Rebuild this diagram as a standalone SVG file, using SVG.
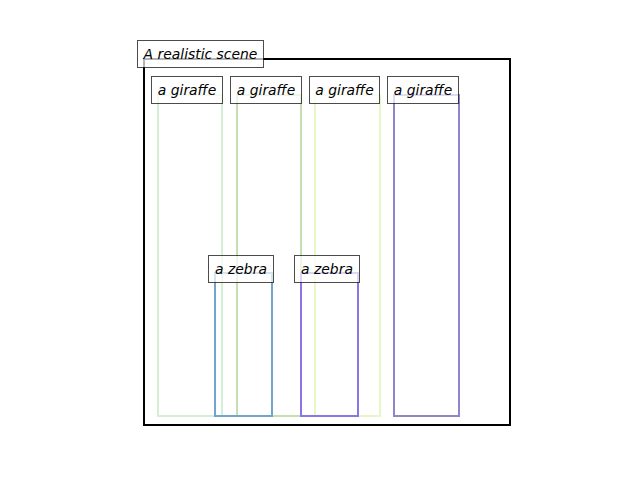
<svg xmlns="http://www.w3.org/2000/svg" width="640" height="480" viewBox="0 0 640 480">
<style>
.obj{fill:none;stroke-width:2}
.lbl{fill:#ffffff;fill-opacity:0.7;stroke:#000000;stroke-opacity:0.7;stroke-width:1}
.t{font-family:"DejaVu Sans",sans-serif;font-style:italic;font-size:13.9px;fill:#000000;text-anchor:middle}
</style>
<rect width="640" height="480" fill="#ffffff"/>
<g id="scene-frame">
<rect x="144" y="59" width="366" height="366" fill="none" stroke="#000000" stroke-width="2"/>
</g>
<g id="shapes">
<rect id="giraffe-1-box" class="obj" x="158" y="95" width="64" height="321" stroke="#d4f0d4"/>
<rect id="giraffe-2-box" class="obj" x="237" y="95" width="64" height="321" stroke="#c4e0b0"/>
<rect id="giraffe-3-box" class="obj" x="315" y="95" width="65" height="321" stroke="#e4f8c8"/>
<rect id="giraffe-4-box" class="obj" x="394" y="95" width="65" height="321" stroke="#9284cc"/>
<rect id="zebra-1-box" class="obj" x="215" y="273" width="57" height="143" stroke="#72a4d0"/>
<rect id="zebra-2-box" class="obj" x="301" y="273" width="57" height="143" stroke="#8c74e6"/>
</g>
<g id="scene">
<rect class="lbl" x="137.5" y="40.5" width="126" height="27"/>
<text class="t" x="200.5" y="58.5">A realistic scene</text>
</g>
<g id="giraffe-1">
<rect class="lbl" x="151.5" y="76.5" width="71" height="27"/>
<text class="t" x="187" y="94.5">a giraffe</text>
</g>
<g id="giraffe-2">
<rect class="lbl" x="230.5" y="76.5" width="71" height="27"/>
<text class="t" x="266" y="94.5">a giraffe</text>
</g>
<g id="giraffe-3">
<rect class="lbl" x="309.5" y="76.5" width="70" height="27"/>
<text class="t" x="344.5" y="94.5">a giraffe</text>
</g>
<g id="giraffe-4">
<rect class="lbl" x="387.5" y="76.5" width="71" height="27"/>
<text class="t" x="423" y="94.5">a giraffe</text>
</g>
<g id="zebra-1">
<rect class="lbl" x="208.5" y="255.5" width="65" height="27"/>
<text class="t" x="241" y="273.5">a zebra</text>
</g>
<g id="zebra-2">
<rect class="lbl" x="294.5" y="255.5" width="65" height="27"/>
<text class="t" x="327" y="273.5">a zebra</text>
</g>
</svg>
